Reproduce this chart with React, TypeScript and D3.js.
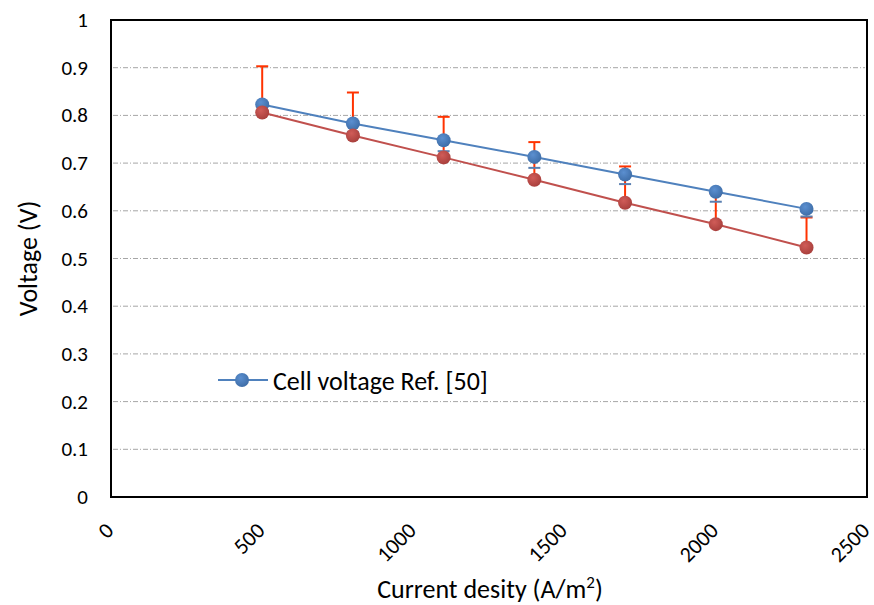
import React from "react";
import * as d3 from "d3";

const currentDensity = [500, 800, 1100, 1400, 1700, 2000, 2300];
const cellVoltageRef = [0.823, 0.783, 0.748, 0.713, 0.676, 0.640, 0.604];
const cellVoltageModel = [0.806, 0.758, 0.712, 0.665, 0.617, 0.572, 0.523];
const modelUpper = [0.903, 0.848, 0.797, 0.744, 0.693, 0.635, 0.586];
const refLower = [0.81, 0.765, 0.725, 0.690, 0.656, 0.619, 0.588];
const xTicks = [0, 500, 1000, 1500, 2000, 2500];
const yTicks = [0, 0.1, 0.2, 0.3, 0.4, 0.5, 0.6, 0.7, 0.8, 0.9, 1];
const legendLabel = "Cell voltage Ref. [50]";

const W = 874, H = 605;
const FONT = "Carlito, Calibri, Lato, sans-serif";
const BLUE = "#4F81BD";
const RED = "#C0504D";
const ORANGE = "#FF3300";

export default function App() {
  const x = d3.scaleLinear().domain([0, 2500]).range([111, 867]);
  const y = d3.scaleLinear().domain([0, 1]).range([497, 20]);
  const line = d3.line<number>().x((_, i) => x(currentDensity[i])).y((d) => y(d));
  const r = 7;
  return (
    <svg width={W} height={H} style={{ position: "absolute", left: 0, top: 0, background: "#fff" }}>
      <defs>
        <radialGradient id="gb" cx="40%" cy="35%" r="65%">
          <stop offset="0%" stopColor="#5b8fd0" />
          <stop offset="100%" stopColor="#3f6ea8" />
        </radialGradient>
        <radialGradient id="gr" cx="40%" cy="35%" r="65%">
          <stop offset="0%" stopColor="#d05c58" />
          <stop offset="100%" stopColor="#a9403d" />
        </radialGradient>
      </defs>
      <rect x={0} y={0} width={W} height={H} fill="#fff" />
      {yTicks.filter((t) => t > 0 && t < 1).map((t) => (
        <line key={t} x1={x(0) + 2} x2={x(2500) - 2} y1={y(t)} y2={y(t)} stroke="#a6a6a6" strokeWidth={1} strokeDasharray="5,2,1,2" />
      ))}
      {yTicks.map((t) => (
        <text key={t} x={88} y={y(t)} textAnchor="end" dominantBaseline="central" fontFamily={FONT} fontSize={21} fill="#000">
          {d3.format("")(Math.round(t * 10) / 10)}
        </text>
      ))}
      {xTicks.map((t) => (
        <text key={t} transform={`translate(${x(t) - 8},${520}) rotate(-45)`} textAnchor="end" dominantBaseline="hanging" fontFamily={FONT} fontSize={22} fill="#000">
          {t}
        </text>
      ))}
      {/* orange error bars (plus) */}
      {currentDensity.map((c, i) => (
        <g key={"eo" + i} stroke={ORANGE} strokeWidth={2}>
          <line x1={x(c)} x2={x(c)} y1={y(cellVoltageModel[i])} y2={y(modelUpper[i])} />
          <line x1={x(c) - 6} x2={x(c) + 6} y1={y(modelUpper[i])} y2={y(modelUpper[i])} />
        </g>
      ))}
      <path d={line(cellVoltageRef) || ""} fill="none" stroke={BLUE} strokeWidth={2} />
      {currentDensity.map((c, i) => (
        <circle key={"b" + i} cx={x(c)} cy={y(cellVoltageRef[i])} r={r} fill="url(#gb)" />
      ))}
      {/* blue error bars (minus) */}
      {currentDensity.map((c, i) => (
        <g key={"eb" + i} stroke="#5a7fb0" strokeWidth={2}>
          <line x1={x(c) - 6} x2={x(c) + 6} y1={y(refLower[i])} y2={y(refLower[i])} />
        </g>
      ))}
      <path d={line(cellVoltageModel) || ""} fill="none" stroke={RED} strokeWidth={2} />
      {currentDensity.map((c, i) => (
        <circle key={"r" + i} cx={x(c)} cy={y(cellVoltageModel[i])} r={r} fill="url(#gr)" />
      ))}
      <rect x={x(0)} y={y(1)} width={x(2500) - x(0)} height={y(0) - y(1)} fill="none" stroke="#000" strokeWidth={2} />
      {/* legend */}
      <line x1={218} x2={268} y1={380} y2={380} stroke={BLUE} strokeWidth={2} />
      <circle cx={242} cy={380} r={r} fill="url(#gb)" />
      <text x={273} y={381} dominantBaseline="central" fontFamily={FONT} fontSize={26} fill="#000">{legendLabel}</text>
      <text transform={`translate(28,${(y(0) + y(1)) / 2}) rotate(-90)`} textAnchor="middle" dominantBaseline="central" fontFamily={FONT} fontSize={26} fill="#000">Voltage (V)</text>
      <text x={490} y={598} textAnchor="middle" fontFamily={FONT} fontSize={26} fill="#000">
        Current desity (A/m<tspan baselineShift="super" fontSize={17}>2</tspan>)
      </text>
    </svg>
  );
}
